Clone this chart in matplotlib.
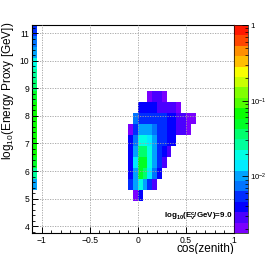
import colorsys

import matplotlib
matplotlib.use('Agg')
import matplotlib.pyplot as plt
import numpy as np
from matplotlib.colors import ListedColormap, LogNorm
from matplotlib.ticker import LogLocator, MultipleLocator, NullFormatter

plt.rcParams['font.family'] = ['Liberation Sans', 'DejaVu Sans']
plt.rcParams['mathtext.fontset'] = 'custom'
plt.rcParams['mathtext.rm'] = 'Liberation Sans'
plt.rcParams['mathtext.it'] = 'Liberation Sans:italic'
plt.rcParams['mathtext.bf'] = 'Liberation Sans:bold'

# bin edges
cos_edges = np.round(np.arange(-0.1, 0.6001, 0.05), 3)
loge_edges = np.round(np.arange(4.9, 8.9001, 0.4), 3)

# fraction per bin, rows from low energy to high energy
nan = np.nan
frac = [
    [nan, .0021, .0039, nan, nan, nan, nan, nan, nan, nan, nan, nan, nan, nan],
    [.0054, .010, .019, .010, .0054, .0029, nan, nan, nan, nan, nan, nan, nan, nan],
    [.0039, .010, .050, .036, .014, .0074, .0039, nan, nan, nan, nan, nan, nan, nan],
    [.0039, .014, .050, .050, .019, .010, .0054, .0029, nan, nan, nan, nan, nan, nan],
    [.0039, .010, .036, .036, .019, .010, .0054, .0039, .0029, nan, nan, nan, nan, nan],
    [.0039, .0074, .019, .019, .014, .010, .0054, .0054, .0039, .0039, nan, nan, nan, nan],
    [.0021, .0054, .010, .010, .010, .0074, .0054, .0054, .0039, .0039, .0029, .0029, .0021, nan],
    [nan, .0074, .0054, .0054, .0054, .0054, .0054, .0054, .0039, .0039, .0029, .0029, .0021, .0021],
    [nan, nan, .0039, .0039, .0039, .0039, .0029, .0029, .0029, .0029, .0021, nan, nan, nan],
    [nan, nan, nan, nan, .0021, .0029, .0029, .0021, nan, nan, nan, nan, nan, nan],
]

# left column (cos bin -1.1..-1.05)
strip_cos = [-1.1, -1.05]
strip_edges = np.round(np.arange(5.3, 11.3001, 0.4), 3)
strip_frac = [.010, .026, .050, .068, .068, .068, .068, .068, .050, .036, .026, .019, .010, .0074, .0054]

zmin, zmax = 10 ** -2.75, 1.0

# ROOT "pretty" palette, 20 contours
n_cont = 20
cols = []
for k in range(n_cont):
    ci = int(0.01 + (k + 0.99) * 50 / n_cont) - 1
    hue = 280 - (ci + 1) * 5.6
    cols.append(colorsys.hls_to_rgb(hue / 360.0, 0.5, 1.0))
cmap = ListedColormap(cols)
norm = LogNorm(vmin=zmin, vmax=zmax)

fig = plt.figure(figsize=(2.66, 2.54), dpi=100)
ax = fig.add_axes([32 / 266, 1 - 233 / 254, 202 / 266, 208 / 254])
cax = fig.add_axes([234 / 266, 1 - 233 / 254, 14 / 266, 208 / 254])

z = np.ma.masked_invalid(np.array(frac))
m = ax.pcolormesh(cos_edges, loge_edges, z, cmap=cmap, norm=norm)
zs = np.ma.masked_invalid(np.array(strip_frac).reshape(-1, 1))
ax.pcolormesh(strip_cos, strip_edges, zs, cmap=cmap, norm=norm)

ax.set_xlim(-1.1, 1.0)
ax.set_ylim(3.75, 11.3)
ax.set_xticks([-1, -0.5, 0, 0.5, 1])
ax.set_xticklabels(['\u22121', '\u22120.5', '0', '0.5', '1'])
ax.set_yticks(range(4, 12))
ax.xaxis.set_minor_locator(MultipleLocator(0.1))
ax.yaxis.set_minor_locator(MultipleLocator(0.2))
ax.tick_params(which='both', direction='in', top=False, right=False, labelsize=6.2, pad=2)
ax.tick_params(which='major', length=4, width=0.7)
ax.tick_params(which='minor', length=2, width=0.6)
ax.grid(True, which='major', color='#a0a0a0', linestyle=(0, (1.5, 1.5)), linewidth=0.6)
ax.set_axisbelow(False)
for s in ax.spines.values():
    s.set_linewidth(0.8)

ax.set_xlabel('cos(zenith)', fontsize=8.5, loc='right')
ax.xaxis.set_label_coords(1.0, -0.05)
ax.set_ylabel(r'log$_{10}$(Energy Proxy [GeV])', fontsize=8.5, loc='top')
ax.yaxis.set_label_coords(-0.08, 1.015)

ax.text(0.99, 4.33, r'$\mathbf{log_{10}(E^{c}_{\nu}/GeV)\!=\!9.0}$', fontsize=5.8,
        ha='right', va='center')

cb = fig.colorbar(m, cax=cax)
cb.outline.set_linewidth(0.5)
cb.set_ticks([0.01, 0.1, 1])
cb.set_ticklabels([r'10$^{-2}$', r'10$^{-1}$', '1'])
cax.yaxis.set_minor_locator(LogLocator(base=10, subs=np.arange(2, 10)))
cax.yaxis.set_minor_formatter(NullFormatter())
cax.tick_params(which='both', direction='in', labelsize=5.6, pad=1.5)
cax.tick_params(which='major', length=4, width=0.6)
cax.tick_params(which='minor', length=2, width=0.5)

fig.savefig('out.png', dpi=100)
